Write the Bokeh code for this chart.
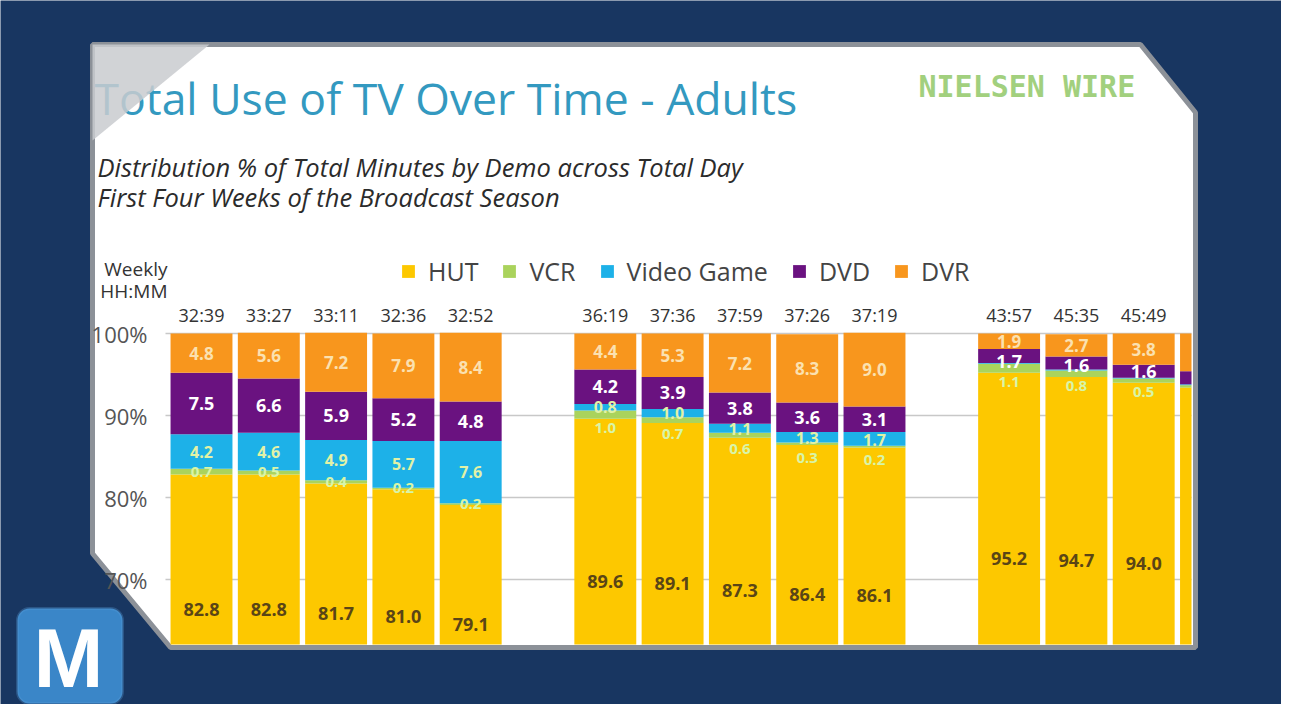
from bokeh.plotting import figure
from bokeh.models import ColumnDataSource, BoxAnnotation, Label, Range1d
from bokeh.core.properties import value
from bokeh.embed import file_html
from bokeh.resources import INLINE

# ---------------- data ----------------
weekly_hhmm = ["32:39", "33:27", "33:11", "32:36", "32:52",
               "36:19", "37:36", "37:59", "37:26", "37:19",
               "43:57", "45:35", "45:49"]
weeks_per_group = [5, 5, 4]
hut = [82.8, 82.8, 81.7, 81.0, 79.1, 89.6, 89.1, 87.3, 86.4, 86.1, 95.2, 94.7, 94.0, 93.4]
vcr = [0.7, 0.5, 0.4, 0.2, 0.2, 1.0, 0.7, 0.6, 0.3, 0.2, 1.1, 0.8, 0.5, 0.3]
video_game = [4.2, 4.6, 4.9, 5.7, 7.6, 0.8, 1.0, 1.1, 1.3, 1.7, 0.1, 0.1, 0.1, 0.1]
dvd = [7.5, 6.6, 5.9, 5.2, 4.8, 4.2, 3.9, 3.8, 3.6, 3.1, 1.7, 1.6, 1.6, 1.6]
dvr = [4.8, 5.6, 7.2, 7.9, 8.4, 4.4, 5.3, 7.2, 8.3, 9.0, 1.9, 2.7, 3.8, 4.6]
series_names = ["HUT", "VCR", "Video Game", "DVD", "DVR"]
y_ticks = [70, 80, 90, 100]
axis_base = 50  # the original chart's value axis starts at 50%

# ---------------- styles ----------------
colors = ["#fdc800", "#aad35c", "#1db1e8", "#6a1280", "#f8961d"]
label_colors = ["#5a4516", "#d8f5a8", "#e2f2a6", "#ffffff", "#fbe1b0"]
label_sizes = ["18px", "15px", "16px", "18px", "17px"]
NAVY = "#183661"
BORDER = "#8c9198"
W, H = 1281, 704
BAR_W = 0.92

# ---------------- scales: the whole canvas is the plot frame ----------------
PX_X, PX_Y = 67.3, 8.2          # pixels per x unit / per percent
X0 = -201 / PX_X
Y1 = 100 + 333 / PX_Y
x_range = Range1d(X0, X0 + W / PX_X)
y_range = Range1d(Y1 - H / PX_Y, Y1)
LABEL_SEP = 20.5 / PX_Y          # minimum vertical distance between segment labels

def cx(px):
    return X0 + px / PX_X

def cy(py):
    return Y1 - py / PX_Y

# ---------------- positions ----------------
gap = 1
xs = []
start = 0
for n in weeks_per_group:
    xs += [start + i for i in range(n)]
    start += n + gap

p = figure(width=W, height=H, output_backend="svg", toolbar_location=None,
           x_range=x_range, y_range=y_range, x_axis_location=None, y_axis_location=None,
           min_border=0, background_fill_color=NAVY, border_fill_color=NAVY,
           outline_line_color=None)
p.grid.visible = False

# white panel
panel_px = [(92, 44), (1140, 44), (1195, 112), (1195, 647), (170, 647), (92, 553)]
p.patch([cx(a) for a, b in panel_px], [cy(b) for a, b in panel_px],
        fill_color="white", line_color=BORDER, line_width=5)

clip_right = cx(1191)
bar_floor = cy(644)

# grid lines
grid_left = min(xs) - BAR_W / 2 - 0.075
p.segment(x0=[grid_left] * len(y_ticks), x1=[clip_right] * len(y_ticks), y0=y_ticks, y1=y_ticks,
          line_color="#c8c8c8", line_width=1.5)

# stacked bars
series = [hut, vcr, video_game, dvd, dvr]
cum = [0.0] * len(xs)
centers = []
for k, (name, vals) in enumerate(zip(series_names, series)):
    bottoms = [max(c, bar_floor) for c in cum]
    tops = [c + v for c, v in zip(cum, vals)]
    src = ColumnDataSource(dict(
        left=[x - BAR_W / 2 for x in xs],
        right=[min(x + BAR_W / 2, clip_right) for x in xs],
        bottom=bottoms, top=tops))
    p.quad(left="left", right="right", bottom="bottom", top="top", source=src,
           fill_color=colors[k], line_color=None, legend_label=name)
    centers.append([(axis_base + v) / 2.0 if k == 0 else c + v / 2.0
                    for c, v in zip(cum, vals)])
    cum = tops

# segment labels, pushed down where they would overlap the label above
lx, ly, lt, lc, ls = [], [], [], [], []
for j, x in enumerate(xs):
    if x >= clip_right:
        continue
    prev = None
    for k in range(len(series_names) - 1, -1, -1):
        v = series[k][j]
        if v < 0.2:
            continue
        yc = centers[k][j]
        if prev is not None and k > 0:
            yc = min(yc, prev - LABEL_SEP)
        prev = yc
        lx.append(x); ly.append(yc); lt.append(f"{v:.1f}")
        lc.append(label_colors[k]); ls.append(label_sizes[k])

lsrc = ColumnDataSource(dict(x=lx, y=ly, text=lt, color=lc, size=ls))
p.text(x="x", y="y", text="text", source=lsrc, text_color="color", text_font_size="size",
       text_font=value("Open Sans"), text_font_style="bold",
       text_align="center", text_baseline="middle")

# weekly HH:MM labels above the bars
p.text(x=xs[:len(weekly_hhmm)], y=[cy(314)] * len(weekly_hhmm), text=weekly_hhmm,
       text_color="#333333", text_font=value("Open Sans"), text_font_size="18px",
       text_align="center", text_baseline="middle")

# value-axis labels
p.text(x=[cx(147)] * len(y_ticks), y=y_ticks, text=[f"{t}%" for t in y_ticks],
       text_color="#555555", text_font=value("Open Sans"), text_font_size="22px",
       text_align="right", text_baseline="middle")

# headings
p.text(x=[cx(94)], y=[cy(97)], text=["Total Use of TV Over Time - Adults"],
       text_color="#3399c0", text_font=value("Open Sans"), text_font_size="44.5px",
       text_baseline="alphabetic")
p.text(x=[cx(97), cx(97)], y=[cy(166), cy(196)],
       text=["Distribution % of Total Minutes by Demo across Total Day",
             "First Four Weeks of the Broadcast Season"],
       text_color="#2b2b2b", text_font=value("Open Sans"), text_font_style="italic",
       text_font_size="25.5px", text_baseline="alphabetic")
p.text(x=[cx(918)], y=[cy(86)], text=["NIELSEN WIRE"], text_color="#a2d07e",
       text_font=value("DejaVu Sans Mono"), text_font_style="bold", text_font_size="30px",
       text_baseline="alphabetic")
p.text(x=[cx(167), cx(167)], y=[cy(268), cy(290)], text=["Weekly", "HH:MM"],
       text_color="#333333", text_font=value("Open Sans"), text_font_size="19px",
       text_align="right", text_baseline="middle")

# page-curl triangle at the top-left corner of the panel
tri_px = [(92, 44), (209, 44), (92, 140)]
p.patch([cx(a) for a, b in tri_px], [cy(b) for a, b in tri_px],
        fill_color="#c9cbcf", fill_alpha=0.85, line_color=None)

# legend
lg = p.legend[0]
lg.orientation = "horizontal"
lg.location = (400, 416)
lg.background_fill_alpha = 0
lg.border_line_color = None
lg.label_text_font = "Open Sans"
lg.label_text_font_size = "25px"
lg.label_text_color = "#444444"
lg.glyph_width = 16
lg.glyph_height = 16
lg.spacing = 23
lg.label_standoff = 12
lg.padding = 0
lg.margin = 0

# "M" logo
p.add_layout(BoxAnnotation(left=cx(17), right=cx(122), top=cy(608), bottom=cy(703),
                           fill_color="#3a86c8", fill_alpha=1.0, line_color="#5aa0dc",
                           line_width=3, border_radius=12))
p.add_layout(Label(x=cx(68), y=cy(657), text="M", text_font="Liberation Sans",
                   text_font_style="bold", text_font_size="84px", text_color="white",
                   text_align="center", text_baseline="middle"))

open("out.html", "w").write(file_html(p, INLINE))
